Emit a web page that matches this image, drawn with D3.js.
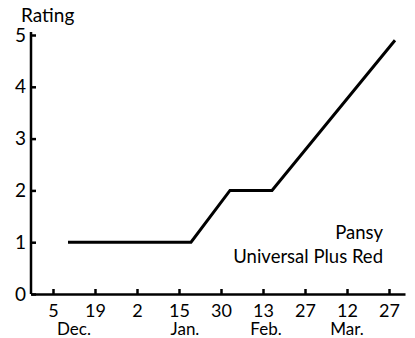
<!DOCTYPE html>
<html><head><meta charset="utf-8">
<script src="https://cdn.jsdelivr.net/npm/d3@7"></script>
<style>
html,body{margin:0;padding:0;background:#fff;}
text{font-family:Lato,"Open Sans",sans-serif;fill:#000;}
</style></head>
<body><svg id="c" width="415" height="338"></svg>
<script>
// days since Dec. 5
const days = [5, 46, 59, 73, 114];
const ratings = [1, 1, 2, 2, 4.9];
const tickDays = [0, 14, 28, 42, 56, 70, 84, 98, 112];
const tickLabels = ["5", "19", "2", "15", "30", "13", "27", "12", "27"];
const months = ["Dec.", "Jan.", "Feb.", "Mar."];
const monthDays = [7, 44, 71, 98];
const yTicks = [0, 1, 2, 3, 4, 5];
const yTitle = "Rating";
const legend = ["Pansy", "Universal Plus Red"];

const svg = d3.select("#c");
const x = d3.scaleLinear().domain([-7.33, 117.33]).range([31, 405]);
const y = d3.scaleLinear().domain([0, 5]).range([294, 35]);

// axes
const xAxis = d3.axisBottom(x).tickValues(tickDays).tickSize(-5).tickFormat((d,i)=>tickLabels[i]).tickSizeOuter(0);
const gx = svg.append("g").attr("transform","translate(0,294)").call(xAxis);
gx.select(".domain").attr("stroke","#000").attr("stroke-width",2.5);
gx.selectAll(".tick line").attr("stroke","#000").attr("stroke-width",2.5);
gx.selectAll(".tick text").attr("y",23).attr("dy",0).style("font-size","18px").style("font-family","Lato,sans-serif");

const yAxis = d3.axisLeft(y).tickValues(yTicks).tickSize(-5).tickFormat(d3.format("d")).tickSizeOuter(0);
const gy = svg.append("g").attr("transform","translate(31,0)").call(yAxis);
gy.select(".domain").attr("stroke","#000").attr("stroke-width",2.5).attr("d","M0,32V294");
gy.selectAll(".tick line").attr("stroke","#000").attr("stroke-width",2.5);
gy.selectAll(".tick text").attr("x",-5).style("font-size","19px").style("font-family","Lato,sans-serif");

// month labels
svg.append("g").selectAll("text").data(months).join("text")
  .attr("x",(d,i)=>x(monthDays[i])).attr("y",335).attr("text-anchor","middle")
  .style("font-size","17px").text(d=>d);

// y title
svg.append("text").attr("x",21).attr("y",22).style("font-size","19px").text(yTitle);

// line
const line = d3.line().x((d,i)=>x(days[i])).y(d=>y(d));
svg.append("path").datum(ratings).attr("d",line).attr("fill","none")
  .attr("stroke","#000").attr("stroke-width",3).attr("stroke-linejoin","miter");

// legend
svg.append("g").selectAll("text").data(legend).join("text")
  .attr("x",383).attr("y",(d,i)=>239+i*24).attr("text-anchor","end")
  .style("font-size","18.5px").text(d=>d);
</script></body></html>
